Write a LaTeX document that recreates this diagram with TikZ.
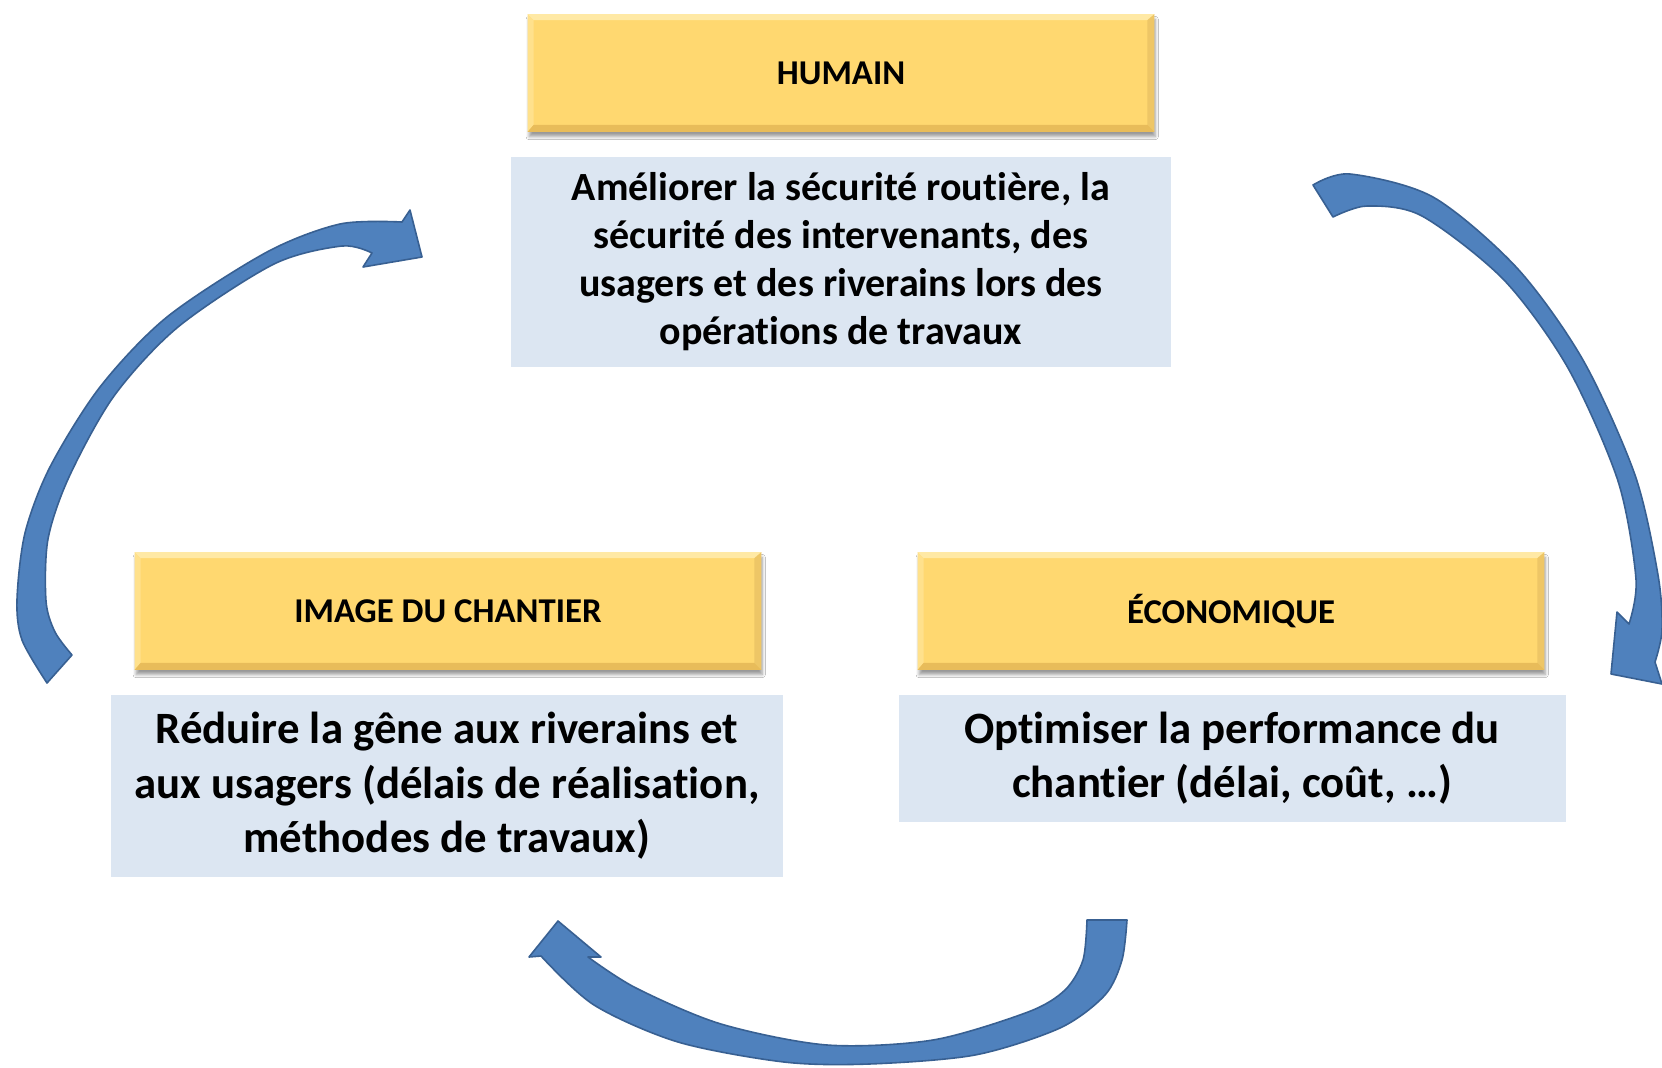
\documentclass[tikz,border=0pt]{standalone}
\usepackage{fontspec}
\setmainfont{Carlito}[Ligatures=NoCommon, RawFeature={-liga;-clig;-calt}]
\usetikzlibrary{calc,shadows.blur}
\definecolor{yface}{RGB}{255,216,112}
\definecolor{ytop}{RGB}{255,233,165}
\definecolor{yleft}{RGB}{255,225,140}
\definecolor{yright}{RGB}{238,198,102}
\definecolor{ybot}{RGB}{232,188,90}
\definecolor{bfill}{RGB}{220,230,242}
\definecolor{arrfill}{RGB}{79,129,189}
\definecolor{arrline}{RGB}{56,96,146}
\newcommand\ybevel[1]{%
  \fill[ytop] (#1.north west) -- (#1.north east) -- ($(#1.north east)+(-6,6)$) -- ($(#1.north west)+(6,6)$) -- cycle;
  \fill[yleft] (#1.north west) -- (#1.south west) -- ($(#1.south west)+(6,-7)$) -- ($(#1.north west)+(6,6)$) -- cycle;
  \fill[yright] (#1.north east) -- (#1.south east) -- ($(#1.south east)+(-7,-7)$) -- ($(#1.north east)+(-7,6)$) -- cycle;
  \fill[ybot] (#1.south west) -- (#1.south east) -- ($(#1.south east)+(-7,-7)$) -- ($(#1.south west)+(6,-7)$) -- cycle;
}
\begin{document}
\begin{tikzpicture}[x=0.5pt,y=-0.5pt,
  ylabel/.style={fill=yface, minimum width=313pt, minimum height=58.5pt, inner sep=0pt,
    font=\fontsize{17.4}{21}\selectfont\bfseries,
    blur shadow={shadow xshift=0.6pt, shadow yshift=-2.5pt, shadow blur steps=6, shadow opacity=40, shadow blur radius=1.6pt}},
  textbox/.style={fill=bfill, inner sep=0pt, align=center},
  bigtext/.style={font=\fontsize{22.4}{27.3}\selectfont\bfseries},
  blockarrow/.style={fill=arrfill, draw=arrline, line width=0.8pt, line join=round}]
\fill[white] (0,0) rectangle (1662,1067);
\useasboundingbox (0,0) rectangle (1662,1067);

% arrow HUMAIN -> ECONOMIQUE
\filldraw[blockarrow]
  plot[smooth] coordinates {(1313,185) (1350,174) (1433,197) (1517,268) (1583,360) (1635,475) (1658,575) (1662,630) (1655,662)}
  -- (1662,684) -- (1611,674) -- (1617,612) -- (1629,624)
  -- plot[smooth] coordinates {(1629,624) (1636,579) (1618,481) (1568,368) (1504,280) (1422,216) (1367,206) (1333,217)}
  -- cycle;
% arrow IMAGE -> HUMAIN
\filldraw[blockarrow]
  plot[smooth] coordinates {(47,683) (22,640) (17,600) (25,533) (50,467) (100,387) (167,317) (267,252) (340,224) (402,222)}
  -- (410,210) -- (422,257) -- (363,267) -- (372,253)
  -- plot[smooth] coordinates {(372,253) (342,246) (274,264) (178,327) (114,396) (69,477) (48,539) (46,601) (55,632) (72,655)}
  -- cycle;
% arrow ECONOMIQUE -> IMAGE
\filldraw[blockarrow]
  plot[smooth] coordinates {(1127,920) (1122,960) (1105,995) (1060,1028) (975,1055) (869,1064) (784,1062) (678,1042) (594,1005) (541,956)}
  -- (529,957) -- (558,921) -- (601,957) -- (588,957)
  -- plot[smooth] coordinates {(588,957) (636,988) (721,1024) (827,1045) (933,1040) (1028,1012) (1065,990) (1083,960) (1087,920)}
  -- cycle;

% top block
\node[ylabel] (hum) at (841,73) {HUMAIN};
\ybevel{hum}
\node[textbox, minimum width=330pt, minimum height=105pt, font=\fontsize{20}{24}\selectfont\bfseries] (humt) at (841,262)
  {Améliorer la sécurité routière, la\\sécurité des intervenants, des\\usagers et des riverains lors des\\opérations de travaux};

% left block
\node[ylabel] (img) at (448,611) {IMAGE DU CHANTIER};
\ybevel{img}
\node[textbox, bigtext, minimum width=336pt, minimum height=91pt] (imgt) at (447,786)
  {Réduire la gêne aux riverains et\\aux usagers (délais de réalisation,\\méthodes de travaux)};

% right block
\node[ylabel] (eco) at (1231,611) {ÉCONOMIQUE};
\ybevel{eco}
\node[textbox, bigtext, minimum width=333.5pt, minimum height=63.5pt] (ecot) at (1232,758)
  {Optimiser la performance du\\chantier (délai, coût, …)};
\end{tikzpicture}
\end{document}
